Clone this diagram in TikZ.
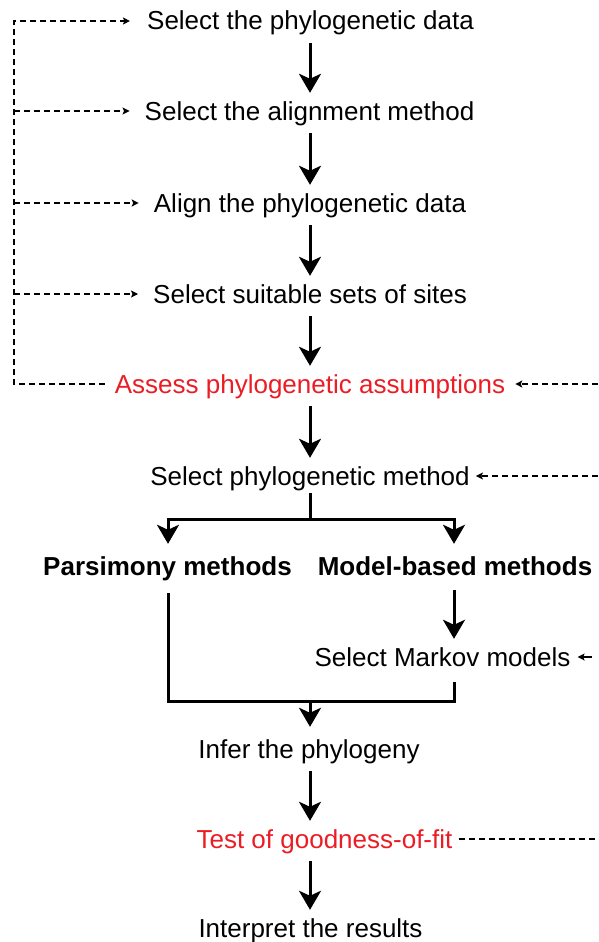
\documentclass[tikz,border=0pt]{standalone}
\usepackage{fontspec}
\setmainfont{Liberation Sans}
\usetikzlibrary{arrows.meta,calc}
\definecolor{phred}{RGB}{235,28,36}
\begin{document}
\begin{tikzpicture}[x=1pt,y=-1pt,
  txt/.style={anchor=base, inner sep=0pt, text height=21pt, text depth=3pt, font=\fontsize{26}{30}\selectfont},
  boldtxt/.style={txt, font=\fontsize{26}{30}\selectfont\bfseries},
  redtxt/.style={txt, text=phred},
  mainarrow/.style={line width=3pt, -{Stealth[length=19pt,width=22pt,inset=5pt]}, shorten <=10pt, shorten >=6pt},
  plainline/.style={line width=3pt},
  dashline/.style={line width=1.1pt, dash pattern=on 6pt off 4pt},
  smalltip/.style={-{Stealth[length=7pt,width=7pt,inset=1.5pt]}},
  dasharrow/.style={dashline, smalltip},
]
\useasboundingbox (0,0) rectangle (598,942);

% text nodes
\node[txt] (n1) at (310.5,30) {Select the phylogenetic data};
\node[txt] (n2) at (309.5,120) {Select the alignment method};
\node[txt] (n3) at (310,212) {Align the phylogenetic data};
\node[txt] (n4) at (310,303) {Select suitable sets of sites};
\node[redtxt] (n5) at (310,393) {Assess phylogenetic assumptions};
\node[txt] (n6) at (310,485) {Select phylogenetic method};
\node[boldtxt] (pars) at (167.5,575) {Parsimony methods};
\node[boldtxt] (model) at (455,575) {Model-based methods};
\node[txt] (markov) at (442.5,666) {Select Markov models};
\node[txt] (infer) at (309,758) {Infer the phylogeny};
\node[redtxt] (test) at (324.5,848) {Test of goodness-of-fit};
\node[txt] (interp) at (310.5,937) {Interpret the results};

% helper coordinates
\coordinate (cx) at (310,0);
\coordinate (jc) at (310,519);
\coordinate (jl) at (168,519);
\coordinate (jr) at (454,519);
\coordinate (mr) at (454,701);
\coordinate (mc) at (310,701);
\coordinate (lx) at (14,0);
\coordinate (rx) at (598,0);

% main chain
\draw[mainarrow] (cx |- n1.south) -- (cx |- n2.north);
\draw[mainarrow] (cx |- n2.south) -- (cx |- n3.north);
\draw[mainarrow] (cx |- n3.south) -- (cx |- n4.north);
\draw[mainarrow] (cx |- n4.south) -- (cx |- n5.north);
\draw[mainarrow] (cx |- n5.south) -- (cx |- n6.north);

% split
\draw[mainarrow, shorten <=5pt, shorten >=10pt] (cx |- n6.south) -- (jc) -| (jl |- pars.north);
\draw[mainarrow, shorten <=0pt, shorten >=10pt] (jc) -| (jr |- model.north);
\draw[mainarrow, shorten <=12pt] (jr |- model.south) -- (jr |- markov.north);

% merge
\draw[plainline, shorten <=15pt, shorten >=13pt] (jl |- pars.south) |- (mr) -- (jr |- markov.south);
\draw[mainarrow, shorten <=0pt, shorten >=10pt] (mc) -- (mc |- infer.north);
\draw[mainarrow] (cx |- infer.south) -- (cx |- test.north);
\draw[mainarrow] (cx |- test.south) -- (cx |- interp.north);

% left feedback loop
\draw[dasharrow, shorten <=10pt, shorten >=17pt] (n5.west) -| (lx |- n1.west) -- (n1.west);
\draw[dasharrow, shorten >=15pt] (lx |- n2.west) -- (n2.west);
\draw[dasharrow, shorten >=15pt] (lx |- n3.west) -- (n3.west);
\draw[dasharrow, shorten >=15pt] (lx |- n4.west) -- (n4.west);

% right inputs
\draw[dasharrow, shorten >=10pt] (rx |- n5.east) -- (n5.east);
\draw[dasharrow, shorten >=6pt] (rx |- n6.east) -- (n6.east);
\draw[line width=1.1pt, smalltip, shorten <=6pt, shorten >=7pt] (rx |- markov.east) -- (markov.east);
\draw[dashline, shorten <=6pt] (test.east) -- (rx |- test.east);
\end{tikzpicture}
\end{document}
